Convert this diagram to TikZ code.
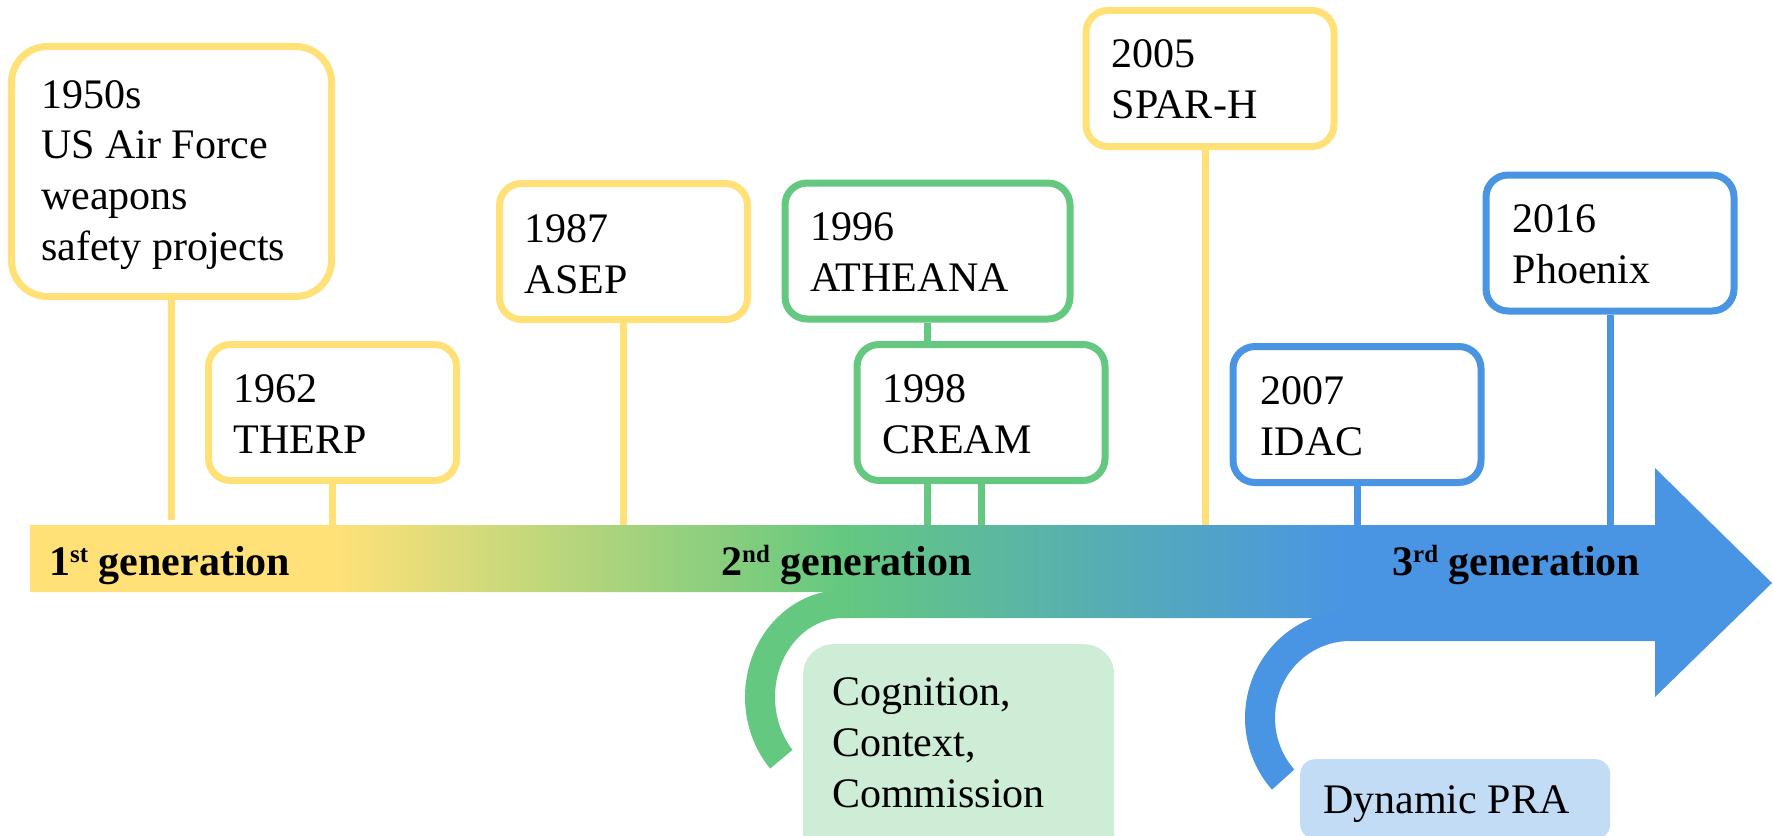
\documentclass[tikz,border=0pt]{standalone}
\usepackage{fontspec}
\setmainfont{Liberation Serif}
\definecolor{cyel}{HTML}{FFE178}
\definecolor{cgrn}{HTML}{64C880}
\definecolor{cblu}{HTML}{4A94E4}
\definecolor{lgrn}{HTML}{CDEDD6}
\definecolor{lblu}{HTML}{C3DCF6}
\begin{document}
\begin{tikzpicture}[x=1bp,y=-1bp,
  % multi-line labels are placed by the baseline of their last line
  txt/.style={anchor=base west, inner sep=0pt, align=left,
              font=\fontsize{42.2}{50.8}\selectfont},
  gen/.style={anchor=base west, inner sep=0pt,
              font=\fontsize{42.2}{50.8}\selectfont\bfseries},
  evbox/.style={draw=#1, line width=7bp, fill=white, rounded corners=22bp,
                minimum width=248bp, minimum height=136bp, inner sep=0pt},
  stemline/.style={draw=#1, line width=7bp},
  notebox/.style={fill=#1, draw=none, inner sep=0pt, anchor=north west},
]
\useasboundingbox (0,0) rectangle (1773,836);

% reference heights on the time axis
\coordinate (bartop) at (0,525);
\coordinate (aend) at (0,520);
\coordinate (sparx) at (1205,0);

% gradient shaft of the time axis
\begin{scope}
  \clip (30,525) -- (1656,525) -- (1656,641) -- (1350,641) -- (1350,618)
        -- (843,618) -- (843,592) -- (30,592) -- cycle;
  \fill[cyel] (28,520) rectangle (336,645);
  \shade[left color=cyel, right color=cgrn] (335,520) rectangle (844,645);
  \shade[left color=cgrn, right color=cblu] (843,520) rectangle (1351,645);
  \fill[cblu] (1350,520) rectangle (1660,645);
\end{scope}
% arrow head
\fill[cblu] (1655,468) -- (1772,583) -- (1655,697) -- cycle;

% curved branches
\fill[cgrn] (843,590) arc[start angle=270, end angle=138, x radius=98, y radius=107]
  -- ([shift={(843,697)}]138:68 and 79)
  arc[start angle=138, end angle=270, x radius=68, y radius=79] -- cycle;
\fill[cblu] (1350,611) arc[start angle=270, end angle=138, x radius=105, y radius=107]
  -- ([shift={(1350,718)}]138:75 and 77)
  arc[start angle=138, end angle=270, x radius=75, y radius=77] -- cycle;

% branch notes
\node[notebox=lgrn, rounded corners=30bp, minimum width=311bp, minimum height=220bp]
  (cog) at (803,644) {};
\node[txt] (cogT) at (832,807) {Cognition,\\Context,\\Commission};
\node[notebox=lblu, rounded corners=15bp, minimum width=310bp, minimum height=80bp]
  (dyn) at (1300,759) {};
\node[txt] (dynT) at (1323,813) {Dynamic PRA};

% first generation
\node[evbox=cyel, rounded corners=36bp, minimum width=320bp, minimum height=250bp]
  (b50) at (171.5,171.5) {};
\draw[stemline=cyel] (b50.south) -- (b50.south |- aend);
\node[txt] (t50) at (41,260) {1950s\\US Air Force\\weapons\\safety projects};

\node[evbox=cyel] (b62) at (332.5,412.5) {};
\draw[stemline=cyel] (b62.south) -- (b62.south |- bartop);
\node[txt] (t62) at (233.5,453) {1962\\THERP};

\node[evbox=cyel] (b87) at (623.5,251.5) {};
\draw[stemline=cyel] (b87.south) -- (b87.south |- bartop);
\node[txt] (t87) at (524.5,293) {1987\\ASEP};

% second generation
\node[evbox=cgrn, minimum width=285bp] (b96) at (927.5,251) {};
\draw[stemline=cgrn] (b96.south) -- (b96.south |- bartop);
\node[txt] (t96) at (810,291) {1996\\ATHEANA};

\node[evbox=cgrn] (b98) at (981,412.5) {};
\draw[stemline=cgrn] (b98.south) -- (b98.south |- bartop);
\node[txt] (t98) at (882,453) {1998\\CREAM};

\node[evbox=cyel] (b05) at (1210,78.5) {};
\draw[stemline=cyel] (b05.south -| sparx) -- (sparx |- bartop);
\node[txt] (t05) at (1111.5,118) {2005\\SPAR-H};

% third generation
\node[evbox=cblu] (b07) at (1357,414.5) {};
\draw[stemline=cblu] (b07.south) -- (b07.south |- bartop);
\node[txt] (t07) at (1260.5,455) {2007\\IDAC};

\node[evbox=cblu] (b16) at (1610,243) {};
\draw[stemline=cblu] (b16.south) -- (b16.south |- bartop);
\node[txt] (t16) at (1512.5,283) {2016\\Phoenix};

% generation labels
\node[gen] (g1) at (49,575) {1\raisebox{13bp}{\fontsize{25}{25}\selectfont st} generation};
\node[gen] (g2) at (721,575) {2\raisebox{13bp}{\fontsize{25}{25}\selectfont nd} generation};
\node[gen] (g3) at (1392,575) {3\raisebox{13bp}{\fontsize{25}{25}\selectfont rd} generation};
\end{tikzpicture}
\end{document}
